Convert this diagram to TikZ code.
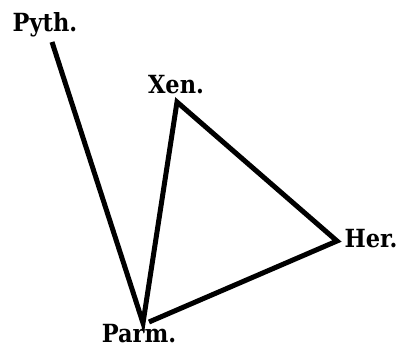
\documentclass[tikz,border=0pt]{standalone}
\usepackage{fontspec}
\newfontfamily\lblfont{DejaVu Serif Condensed}
\begin{document}
\begin{tikzpicture}[x=1pt,y=-1pt,
  lbl/.style={font=\lblfont\fontsize{25}{30}\selectfont\bfseries, inner sep=0pt, anchor=base},
  edge/.style={line width=5pt, line join=miter}]
\useasboundingbox (0,0) rectangle (399,348);
\node[lbl] (pyth) at (45,31) {Pyth.};
\node[lbl] (xen) at (176,93) {Xen.};
\node[lbl] (her) at (371,247) {Her.};
\node[lbl] (parm) at (139,342) {Parm.};
\coordinate (p) at (52,42);
\coordinate (x) at (177,102);
\coordinate (h) at (337,241);
\coordinate (m) at (143,323);
\draw[edge] (p) -- (m) -- (x) -- (h) -- (149,322);
\end{tikzpicture}
\end{document}
